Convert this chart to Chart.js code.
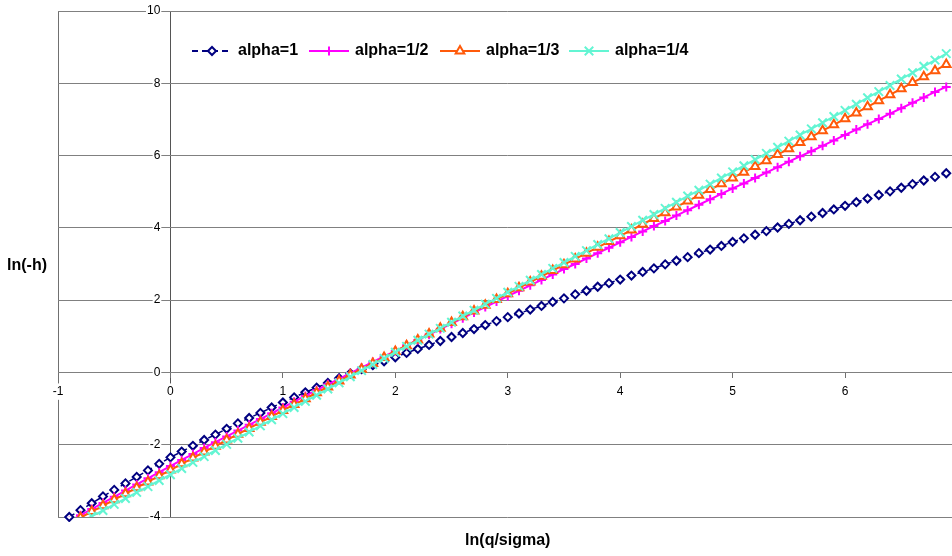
<!DOCTYPE html>
<html>
<head>
<meta charset="utf-8">
<script src="https://cdn.jsdelivr.net/npm/chart.js@4.4.1/dist/chart.umd.min.js"></script>
<style>
  html, body { margin: 0; padding: 0; background: #ffffff; overflow: hidden; }
  #wrap { position: relative; width: 968px; height: 556px; }
</style>
</head>
<body>
<div id="wrap"><canvas id="lnChart"></canvas></div>
<script>
/* ================= DATA ================= */
const xValues = [
  -0.9, -0.8, -0.7, -0.6, -0.5, -0.4, -0.3, -0.2, -0.1, 0.0,
  0.1, 0.2, 0.3, 0.4, 0.5, 0.6, 0.7, 0.8, 0.9, 1.0,
  1.1, 1.2, 1.3, 1.4, 1.5, 1.6, 1.7, 1.8, 1.9, 2.0,
  2.1, 2.2, 2.3, 2.4, 2.5, 2.6, 2.7, 2.8, 2.9, 3.0,
  3.1, 3.2, 3.3, 3.4, 3.5, 3.6, 3.7, 3.8, 3.9, 4.0,
  4.1, 4.2, 4.3, 4.4, 4.5, 4.6, 4.7, 4.8, 4.9, 5.0,
  5.1, 5.2, 5.3, 5.4, 5.5, 5.6, 5.7, 5.8, 5.9, 6.0,
  6.1, 6.2, 6.3, 6.4, 6.5, 6.6, 6.7, 6.8, 6.9
];

const alpha1 = [
  -4.00, -3.81, -3.62, -3.43, -3.25, -3.07, -2.89, -2.71, -2.53, -2.35,
  -2.19, -2.03, -1.87, -1.72, -1.56, -1.41, -1.26, -1.12, -0.97, -0.83,
  -0.69, -0.55, -0.42, -0.29, -0.16, -0.03, 0.09, 0.20, 0.31, 0.42,
  0.54, 0.65, 0.76, 0.87, 0.98, 1.09, 1.20, 1.31, 1.42, 1.53,
  1.63, 1.74, 1.84, 1.95, 2.05, 2.16, 2.26, 2.37, 2.47, 2.57,
  2.68, 2.78, 2.88, 2.99, 3.09, 3.19, 3.30, 3.40, 3.50, 3.61,
  3.71, 3.81, 3.91, 4.01, 4.11, 4.21, 4.31, 4.41, 4.51, 4.61,
  4.71, 4.81, 4.91, 5.01, 5.11, 5.21, 5.31, 5.41, 5.51
];

const alphaHalf = [
  -4.12, -3.95, -3.78, -3.61, -3.44, -3.27, -3.10, -2.93, -2.76, -2.59,
  -2.42, -2.26, -2.09, -1.93, -1.77, -1.61, -1.45, -1.29, -1.13, -0.97,
  -0.81, -0.65, -0.49, -0.33, -0.18, -0.02, 0.13, 0.29, 0.44, 0.59,
  0.75, 0.90, 1.05, 1.20, 1.35, 1.50, 1.66, 1.81, 1.96, 2.11,
  2.26, 2.41, 2.56, 2.71, 2.86, 3.00, 3.15, 3.30, 3.45, 3.60,
  3.75, 3.90, 4.05, 4.19, 4.34, 4.49, 4.64, 4.79, 4.94, 5.09,
  5.23, 5.38, 5.53, 5.68, 5.83, 5.98, 6.12, 6.27, 6.42, 6.57,
  6.72, 6.87, 7.01, 7.16, 7.31, 7.46, 7.61, 7.76, 7.90
];

const alphaThird = [
  -4.18, -4.02, -3.85, -3.69, -3.52, -3.36, -3.19, -3.03, -2.86, -2.70,
  -2.53, -2.37, -2.20, -2.04, -1.87, -1.71, -1.55, -1.38, -1.22, -1.05,
  -0.89, -0.73, -0.56, -0.40, -0.24, -0.07, 0.09, 0.25, 0.41, 0.58,
  0.74, 0.90, 1.06, 1.22, 1.38, 1.54, 1.70, 1.86, 2.02, 2.18,
  2.34, 2.50, 2.66, 2.82, 2.98, 3.14, 3.30, 3.46, 3.62, 3.78,
  3.94, 4.10, 4.26, 4.42, 4.58, 4.74, 4.90, 5.06, 5.22, 5.38,
  5.54, 5.70, 5.86, 6.03, 6.19, 6.36, 6.52, 6.69, 6.85, 7.02,
  7.18, 7.35, 7.52, 7.68, 7.85, 8.02, 8.18, 8.35, 8.52
];

const alphaQuarter = [
  -4.32, -4.15, -3.98, -3.82, -3.65, -3.49, -3.32, -3.16, -2.99, -2.83,
  -2.66, -2.49, -2.33, -2.16, -1.99, -1.82, -1.65, -1.48, -1.31, -1.14,
  -0.97, -0.80, -0.63, -0.46, -0.29, -0.12, 0.05, 0.22, 0.39, 0.56,
  0.72, 0.89, 1.06, 1.22, 1.39, 1.56, 1.72, 1.89, 2.05, 2.22,
  2.38, 2.55, 2.71, 2.88, 3.04, 3.21, 3.37, 3.54, 3.70, 3.87,
  4.04, 4.21, 4.37, 4.54, 4.71, 4.88, 5.04, 5.21, 5.38, 5.55,
  5.72, 5.89, 6.06, 6.23, 6.40, 6.57, 6.74, 6.91, 7.08, 7.25,
  7.42, 7.60, 7.77, 7.94, 8.12, 8.29, 8.47, 8.64, 8.82
];

const seriesNames = ["alpha=1", "alpha=1/2", "alpha=1/3", "alpha=1/4"];
const xTitle = "ln(q/sigma)";
const yTitle = "ln(-h)";

/* ================= HELPERS ================= */
function toPoints(values) {
  return values.map((y, i) => ({ x: xValues[i], y: y }));
}

function noScalePadding(scale) {
  scale.paddingTop = 0;
  scale.paddingBottom = 0;
  scale.paddingLeft = 0;
  scale.paddingRight = 0;
}

const FONT = "'Liberation Sans', Arial, sans-serif";
Chart.defaults.font.family = FONT;
Chart.defaults.color = "#000000";

/* ================= LEGEND (inside plot) ================= */
const legendStarts = [192, 309, 440, 569];
const legendY = 51;

const insideLegend = {
  id: "insideLegend",
  afterDraw(chart) {
    const ctx = chart.ctx;
    ctx.save();
    chart.data.datasets.forEach((ds, i) => {
      const x0 = legendStarts[i];
      ctx.strokeStyle = ds.borderColor;
      ctx.lineWidth = 2;
      ctx.setLineDash(ds.borderDash || []);
      ctx.beginPath();
      ctx.moveTo(x0, legendY);
      ctx.lineTo(x0 + 40, legendY);
      ctx.stroke();
      ctx.setLineDash([]);

      ctx.fillStyle = ds.pointBackgroundColor;
      ctx.strokeStyle = ds.pointBorderColor;
      ctx.lineWidth = ds.pointBorderWidth;
      Chart.helpers.drawPoint(ctx, {
        pointStyle: ds.pointStyle,
        radius: ds.pointRadius,
        rotation: 0,
        borderWidth: ds.pointBorderWidth
      }, x0 + 20, legendY);

      ctx.fillStyle = "#000000";
      ctx.font = "bold 16px " + FONT;
      ctx.textAlign = "left";
      ctx.textBaseline = "middle";
      ctx.fillText(ds.label, x0 + 46, legendY);
    });
    ctx.restore();
  }
};

/* ================= AXIS TITLES ================= */
const axisTitles = {
  id: "axisTitles",
  afterDraw(chart) {
    const ctx = chart.ctx;
    const area = chart.chartArea;
    ctx.save();
    ctx.fillStyle = "#000000";
    ctx.font = "bold 16px " + FONT;
    ctx.textBaseline = "middle";
    ctx.textAlign = "left";
    ctx.fillText(yTitle, 7, (area.top + area.bottom) / 2 + 2);
    ctx.textAlign = "center";
    ctx.fillText(xTitle, (area.left + area.right) / 2, 541);
    ctx.restore();
  }
};

/* ================= CHART ================= */
const ctx = document.getElementById("lnChart").getContext("2d");

new Chart(ctx, {
  type: "line",
  data: {
    datasets: [
      {
        label: seriesNames[0],
        data: toPoints(alpha1),
        borderColor: "#000080",
        borderWidth: 1.5,
        borderDash: [6, 4],
        pointStyle: "rectRot",
        pointRadius: 4,
        pointBorderWidth: 2,
        pointBorderColor: "#000080",
        pointBackgroundColor: "#ffffff",
        clip: 5,
        order: 3
      },
      {
        label: seriesNames[1],
        data: toPoints(alphaHalf),
        borderColor: "#ff00ff",
        borderWidth: 2,
        pointStyle: "cross",
        pointRadius: 4.5,
        pointBorderWidth: 2,
        pointBorderColor: "#ff00ff",
        pointBackgroundColor: "#ff00ff",
        order: 2
      },
      {
        label: seriesNames[2],
        data: toPoints(alphaThird),
        borderColor: "#ff5a0a",
        borderWidth: 2,
        pointStyle: "triangle",
        pointRadius: 5,
        pointBorderWidth: 2,
        pointBorderColor: "#ff5a0a",
        pointBackgroundColor: "#ffffff",
        order: 1
      },
      {
        label: seriesNames[3],
        data: toPoints(alphaQuarter),
        borderColor: "#63f5d3",
        borderWidth: 2,
        pointStyle: "crossRot",
        pointRadius: 6,
        pointBorderWidth: 2,
        pointBorderColor: "#63f5d3",
        pointBackgroundColor: "#63f5d3",
        order: 0
      }
    ]
  },
  options: {
    responsive: true,
    maintainAspectRatio: false,
    animation: false,
    events: [],
    layout: {
      padding: { left: 58, top: 11, right: 10.5, bottom: 39 }
    },
    plugins: {
      legend: { display: false },
      tooltip: { enabled: false }
    },
    elements: {
      line: { tension: 0 }
    },
    scales: {
      x: {
        type: "linear",
        min: -1,
        max: 7,
        position: { y: 0 },
        afterFit: noScalePadding,
        ticks: {
          stepSize: 1,
          padding: 7,
          color: "#000000",
          font: { size: 12 },
          showLabelBackdrop: true,
          backdropColor: "#ffffff",
          backdropPadding: 1
        },
        grid: {
          color: c => {
            if (!c.tick) return "rgba(0,0,0,0)";
            if (c.tick.value === -1) return "#707070";
            if (c.tick.value === 0) return "#555555";
            return "rgba(0,0,0,0)";
          },
          tickColor: "#707070",
          tickLength: 5,
          lineWidth: 1
        },
        border: { display: true, color: "#808080", width: 1 }
      },
      y: {
        type: "linear",
        min: -4,
        max: 10,
        // labels sit about 10px left of the x=0 line
        position: { x: -0.09 },
        afterFit: noScalePadding,
        ticks: {
          stepSize: 2,
          color: "#000000",
          font: { size: 12 },
          showLabelBackdrop: true,
          backdropColor: "#ffffff",
          backdropPadding: 1
        },
        grid: {
          color: "#808080",
          lineWidth: 1,
          drawTicks: false
        },
        border: { display: false }
      }
    }
  },
  plugins: [insideLegend, axisTitles]
});
</script>
</body>
</html>
